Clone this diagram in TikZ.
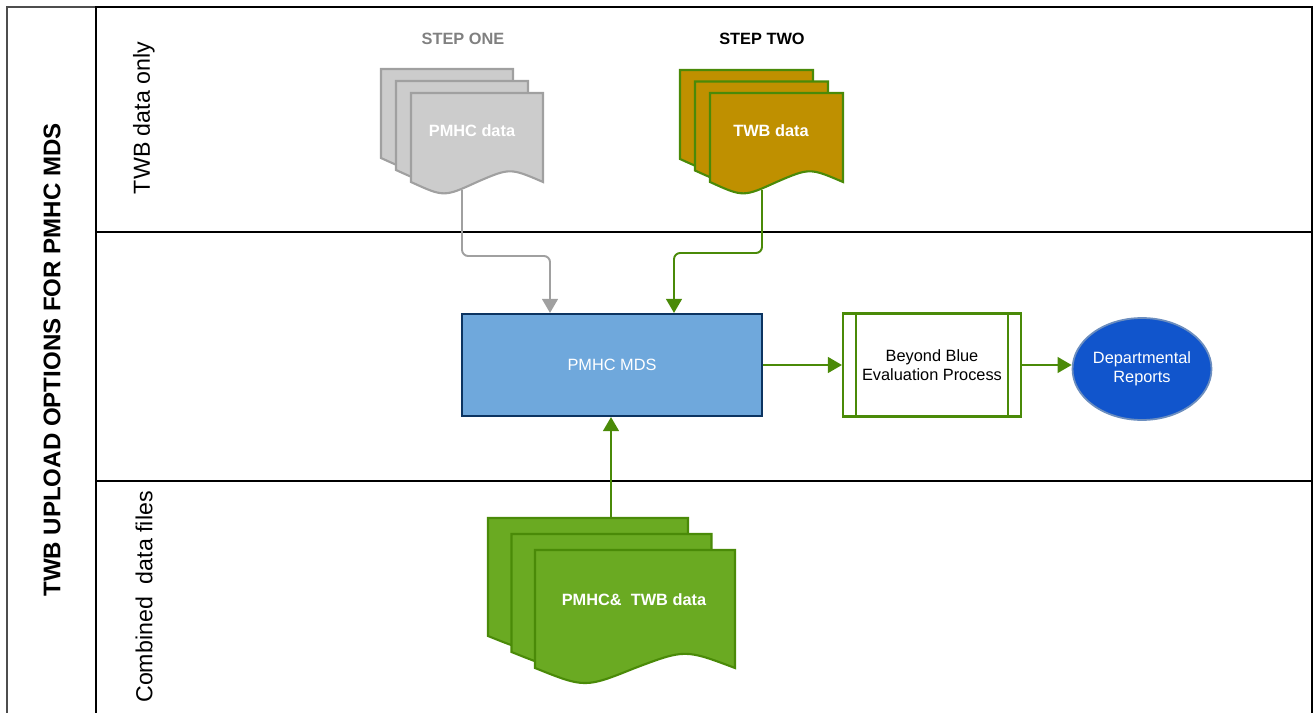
\documentclass[tikz,border=0pt]{standalone}
\usepackage{fontspec}
\setmainfont{Liberation Sans}
\usepackage{tikz}
\usetikzlibrary{positioning}
\usetikzlibrary{arrows.meta}
\usetikzlibrary{shapes.geometric}
\usetikzlibrary{calc}

\definecolor{docgray}{RGB}{204,204,204}
\definecolor{edgegray}{RGB}{160,160,160}
\definecolor{twbgold}{RGB}{191,144,0}
\definecolor{leafgreen}{RGB}{106,170,34}
\definecolor{darkgreen}{RGB}{74,138,8}
\definecolor{mdsblue}{RGB}{111,168,220}
\definecolor{navy}{RGB}{12,52,97}
\definecolor{repblue}{RGB}{17,85,204}
\definecolor{repedge}{RGB}{108,142,191}
\definecolor{framegray}{RGB}{77,77,77}

% one page of a stack: x, y, width, height, style
\newcommand{\docpage}[5]{%
    \draw[#5] ({#1},{#2}) -- ({#1+#3},{#2}) -- ({#1+#3},{#2+#4})
    .. controls ({#1+0.75*#3},{#2+0.84*#4}) .. ({#1+0.5*#3},{#2+#4})
    .. controls ({#1+0.25*#3},{#2+1.17*#4}) .. ({#1},{#2+#4}) -- cycle;
}

\tikzset{
    lbl/.style={font=\fontsize{9.3}{11}\selectfont, align=center},
    boldlbl/.style={font=\fontsize{9.3}{11}\selectfont\bfseries, align=center},
    lanelbl/.style={font=\fontsize{13.2}{15}\selectfont, rotate=90},
    pmhcdoc/.style={fill=docgray, draw=edgegray, line width=1.2pt},
    twbdoc/.style={fill=twbgold, draw=darkgreen, line width=1.2pt},
    bothdoc/.style={fill=leafgreen, draw=darkgreen, line width=1.2pt},
    flow/.style={draw=darkgreen, line width=1.1pt,
        -{Triangle[length=8pt, width=9pt]}, rounded corners=3.5pt},
    grayflow/.style={flow, draw=edgegray}
}

\begin{document}
\begin{tikzpicture}[x=0.02cm, y=-0.02cm]
        \useasboundingbox (0,0) rectangle (1315,713);

        % pool and lanes
        \draw[draw=framegray, line width=1.6pt] (7,720) -- (7,7) -- (96,7);
        \draw[line width=1.6pt] (96,720) -- (96,7) -- (1312,7) -- (1312,720);
        \draw[line width=1.6pt] (96,232) -- (1312,232);
        \draw[line width=1.6pt] (96,481) -- (1312,481);

        \node[font=\fontsize{13.7}{16}\selectfont\bfseries, rotate=90]
        (title) at (52,360) {TWB UPLOAD OPTIONS FOR PMHC MDS};
        \node[lanelbl] (laneone) at (144,118) {TWB data only};
        \node[lanelbl] (lanethree) at (144,597) {Combined\ \ data files};

        \node[boldlbl, text=gray] (stepone) at (463,39) {STEP ONE};
        \node[boldlbl] (steptwo) at (762,39) {STEP TWO};

        % document stacks
        \foreach \k in {0,1,2}
        {
            \docpage{381+15*\k}{69+12*\k}{132}{89}{pmhcdoc}
            \docpage{680+15*\k}{70+11.5*\k}{133}{89}{twbdoc}
            \docpage{488+23.5*\k}{518+16*\k}{200}{118}{bothdoc}
        }

        \node[boldlbl, text=white] (pmhc) at (472,131) {PMHC data};
        \node[boldlbl, text=white] (twb) at (771,131) {TWB data};
        \node[boldlbl, text=white] (both) at (634,600) {PMHC\&\ \ TWB data};

        \coordinate (pmhcfoot) at (462,190);
        \coordinate (twbfoot) at (762,190);
        \coordinate (bothtop) at (611,518);

        % process
        \node[lbl, text=white, draw=navy, fill=mdsblue, line width=1.2pt,
            minimum width=6cm, minimum height=2.04cm]
        (mds) at (612,365) {PMHC MDS};

        \node[lbl, draw=darkgreen, fill=white, line width=1.2pt,
            minimum width=3.56cm, minimum height=2.06cm]
        (bbe) at (932,365) {Beyond Blue\\Evaluation Process};
        \draw[darkgreen, line width=1.2pt]
        ([xshift=0.28cm]bbe.north west) -- ([xshift=0.28cm]bbe.south west);
        \draw[darkgreen, line width=1.2pt]
        ([xshift=-0.28cm]bbe.north east) -- ([xshift=-0.28cm]bbe.south east);

        \node[lbl, ellipse, text=white, draw=repedge, fill=repblue,
            line width=1pt, minimum width=2.78cm, minimum height=2.04cm,
            inner sep=0pt]
        (reports) at (1142,369) {Departmental\\Reports};

        % connectors
        \draw[grayflow] (pmhcfoot) -- ++(0,66) -| ($(mds.north)+(-62,0)$);
        \draw[flow] (twbfoot) -- ++(0,63) -| ($(mds.north)+(62,0)$);
        \draw[flow] (bothtop) -- (bothtop |- mds.south);
        \draw[flow] (mds.east) -- (bbe.west);
        \draw[flow] (bbe.east) -- (bbe.east -| reports.west);
\end{tikzpicture}
\end{document}
